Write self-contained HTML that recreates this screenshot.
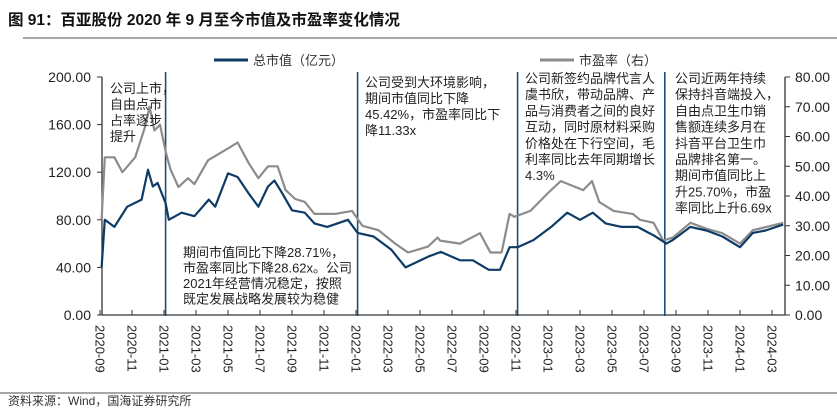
<!DOCTYPE html>
<html><head><meta charset="utf-8">
<style>
body{margin:0;background:#fff;}
svg{display:block;font-family:"Liberation Sans","Noto Sans CJK SC",sans-serif;}
</style></head>
<body>
<svg id="chart" width="837" height="409" viewBox="0 0 837 409">
<text x="8" y="25" font-size="15.5" font-weight="bold" fill="#111">图 91：百亚股份 2020 年 9 月至今市值及市盈率变化情况</text>
<line x1="23" y1="38" x2="837" y2="38" stroke="#888" stroke-width="1.5"/>
<g>
<line x1="214" y1="60" x2="248" y2="60" stroke="#0d3b66" stroke-width="3"/>
<text x="253" y="65" font-size="13" fill="#333">总市值（亿元）</text>
<line x1="540" y1="60" x2="574" y2="60" stroke="#8c8c8c" stroke-width="3"/>
<text x="579" y="65" font-size="13" fill="#333">市盈率（右）</text>
</g>
<g id="axes"></g>
<g id="marks"></g>
<g font-size="13" fill="#222">
<text><tspan x="110" y="93">公司上市，</tspan><tspan x="110" y="109">自由点市</tspan><tspan x="110" y="125">占率逐步</tspan><tspan x="110" y="141">提升</tspan></text>
<text><tspan x="183" y="257">期间市值同比下降28.71%，</tspan><tspan x="183" y="272.5">市盈率同比下降28.62x。公司</tspan><tspan x="183" y="288">2021年经营情况稳定，按照</tspan><tspan x="183" y="303.5">既定发展战略发展较为稳健</tspan></text>
<text><tspan x="365" y="87">公司受到大环境影响，</tspan><tspan x="365" y="103">期间市值同比下降</tspan><tspan x="365" y="119">45.42%，市盈率同比下</tspan><tspan x="365" y="135">降11.33x</tspan></text>
<text><tspan x="525" y="83">公司新签约品牌代言人</tspan><tspan x="525" y="99">虞书欣，带动品牌、产</tspan><tspan x="525" y="115.5">品与消费者之间的良好</tspan><tspan x="525" y="131.5">互动，同时原材料采购</tspan><tspan x="525" y="148">价格处在下行空间，毛</tspan><tspan x="525" y="164">利率同比去年同期增长</tspan><tspan x="525" y="180">4.3%</tspan></text>
<text><tspan x="675" y="83">公司近两年持续</tspan><tspan x="675" y="99">保持抖音端投入，</tspan><tspan x="675" y="115.5">自由点卫生巾销</tspan><tspan x="675" y="131.5">售额连续多月在</tspan><tspan x="675" y="148">抖音平台卫生巾</tspan><tspan x="675" y="164">品牌排名第一。</tspan><tspan x="675" y="180">期间市值同比上</tspan><tspan x="675" y="196.5">升25.70%，市盈</tspan><tspan x="675" y="212.5">率同比上升6.69x</tspan></text>
</g>
<line x1="0" y1="393" x2="837" y2="393" stroke="#888" stroke-width="1.5"/>
<text x="8" y="405" font-size="12" fill="#333">资料来源：Wind，国海证券研究所</text>
</svg>
<script>
// months since 2020-09 (fractional)
const capMonths = [0.1,0.3,0.9,1.7,2.6,3.0,3.3,3.6,4.1,4.3,5.1,5.9,6.8,7.2,8.0,8.6,9.3,9.9,10.5,10.9,11.4,12.0,12.8,13.4,14.2,15.5,16.1,17.1,18.2,19.1,20.5,21.1,21.3,22.5,23.3,24.3,25.0,25.6,26.1,27.1,28.2,29.2,30.0,30.8,31.6,32.6,33.6,34.3,34.6,35.4,35.8,36.9,37.9,38.9,40.0,40.8,41.6,42.7];
const capValues = [40,80,74,91,97,122,108,111,94,80,86,83,97,91,119,116,102,91,108,113,102,88,86,77,74,80,69,66,55,40,49,52,53,46,46,38,38,57,57,63,74,86,80,86,77,74,74,69,67,60,63,74,71,66,57,69,71,76];
const peMonths = [0.1,0.3,0.9,1.4,2.2,2.8,3.1,3.4,3.75,4.1,4.4,4.9,5.5,5.9,6.75,8.0,8.6,9.3,9.9,10.5,11.1,11.6,12.2,12.8,13.4,14.7,15.75,16.4,17.4,18.45,19.25,20.5,21.1,21.25,22.5,23.75,24.4,25.1,25.6,25.9,26.9,28.0,28.8,30.2,30.75,31.2,32.1,33.3,33.75,34.6,35.2,35.8,36.9,37.9,38.9,40.0,40.8,41.6,42.7];
const peValues = [32,53,53,48,53,63,70,62,64,55,49,43,46,44,52,56,58,51,46,50,50,42,39,38,34,34,35,30,28.5,24,21,23,26,25,24,27.5,21,21,34,33,35,41,45,42,45,38,35,34,32,31,25,26,31,29,27.5,24,28.5,29.5,31];
const leftTicks = ["0.00","40.00","80.00","120.00","160.00","200.00"];
const rightTicks = ["0.00","10.00","20.00","30.00","40.00","50.00","60.00","70.00","80.00"];
const xLabels = ["2020-09","2020-11","2021-01","2021-03","2021-05","2021-07","2021-09","2021-11","2022-01","2022-03","2022-05","2022-07","2022-09","2022-11","2023-01","2023-03","2023-05","2023-07","2023-09","2023-11","2024-01","2024-03"];
const periodBreaks = [4.1, 16.1, 26.1, 35.3];

const NS="http://www.w3.org/2000/svg";
const X0=100, PXM=16, Y0=315, YT=77;
const xs = m => X0 + m*PXM;
const yL = v => Y0 - v/200*(Y0-YT);
const yR = v => Y0 - v/80*(Y0-YT);
function mk(tag, attrs, parent){const e=document.createElementNS(NS,tag);for(const k in attrs)e.setAttribute(k,attrs[k]);parent.appendChild(e);return e;}
const axes=document.getElementById('axes'), marks=document.getElementById('marks');

// left axis
let la=mk('line',{x1:102,y1:YT,x2:102,y2:Y0,stroke:'#333','stroke-width':1.3},axes);


leftTicks.forEach((t,i)=>{
  const v=i*40, y=yL(v);
  const tk=mk('line',{x1:97,y1:y,x2:102,y2:y,stroke:'#333'},axes);
  
  
  const tx=mk('text',{x:91,y:y+5,'font-size':14,'text-anchor':'end',fill:'#222'},axes);
  tx.textContent=t;
  
  
});
// right axis
let ra=mk('line',{x1:785,y1:YT,x2:785,y2:Y0,stroke:'#333','stroke-width':1.3},axes);


rightTicks.forEach((t,i)=>{
  const v=i*10, y=yR(v);
  const tk=mk('line',{x1:785,y1:y,x2:790,y2:y,stroke:'#333'},axes);
  
  
  const tx=mk('text',{x:795,y:y+5,'font-size':14,fill:'#222'},axes);
  tx.textContent=t;
  
  
});
// x axis
let xa=mk('line',{x1:102,y1:Y0,x2:785,y2:Y0,stroke:'#333','stroke-width':1.3},axes);


xLabels.forEach((t,i)=>{
  const x=xs(i*2);
  const tk=mk('line',{x1:x,y1:Y0-5,x2:x,y2:Y0,stroke:'#333'},axes);
  
  
  const tx=mk('text',{x:0,y:0,'font-size':13,fill:'#222',transform:`translate(${x-4.5},${Y0+10}) rotate(90)`},axes);
  tx.textContent=t;
  
  
});
// period breaks
periodBreaks.forEach(m=>{
  const l=mk('line',{x1:xs(m),y1:72,x2:xs(m),y2:Y0+1,stroke:'#1f4e79','stroke-width':1.6},marks);
  
  
});
// series
function path(ms,vs,yf){return ms.map((m,i)=>(i?'L':'M')+xs(m).toFixed(1)+','+yf(vs[i]).toFixed(1)).join('');}
const pe=mk('path',{d:path(peMonths,peValues,yR),fill:'none',stroke:'#8c8c8c','stroke-width':2.2,'stroke-linejoin':'round'},marks);


const cap=mk('path',{d:path(capMonths,capValues,yL),fill:'none',stroke:'#0d3b66','stroke-width':2.2,'stroke-linejoin':'round'},marks);


</script>
</body></html>
